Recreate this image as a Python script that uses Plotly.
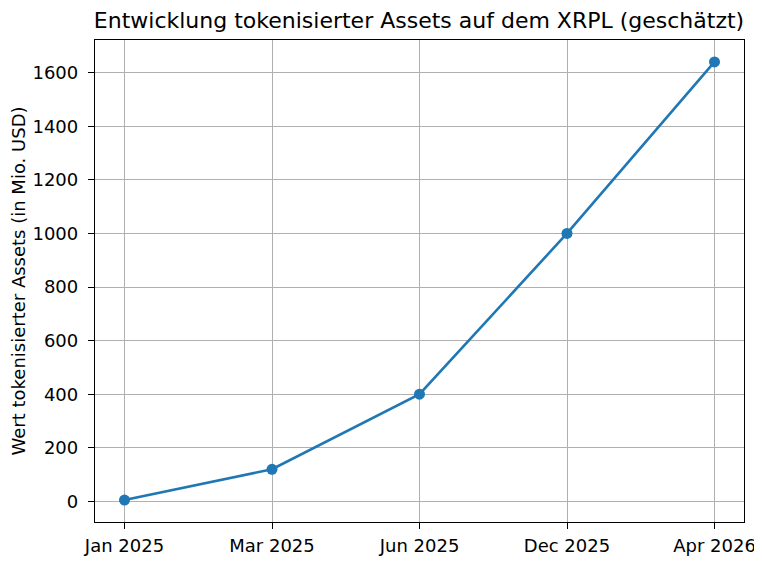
import plotly.graph_objects as go

categories = ["Jan 2025", "Mar 2025", "Jun 2025", "Dec 2025", "Apr 2026"]
values = [5, 120, 400, 1000, 1640]
y_ticks = [0, 200, 400, 600, 800, 1000, 1200, 1400, 1600]

font = "DejaVu Sans"
# The page body has a default 8px margin, so the figure is sized to fit the window.
W, H = 754, 554
fig = go.Figure(
    go.Scatter(
        x=list(range(len(categories))),
        y=values,
        mode="lines+markers",
        line=dict(color="#1f77b4", width=2.6),
        marker=dict(color="#1f77b4", size=11),
        cliponaxis=False,
    )
)

span = max(values) - min(values)
axis_common = dict(
    showgrid=True,
    gridcolor="#b0b0b0",
    gridwidth=1.3,
    zeroline=False,
    showline=True,
    linecolor="black",
    linewidth=1.3,
    mirror=True,
    ticks="outside",
    ticklen=6,
    tickwidth=1.3,
    tickcolor="black",
    automargin=False,
    tickfont=dict(family=font, size=18, color="black"),
)
fig.update_layout(
    width=W,
    height=H,
    margin=dict(l=87, r=18, t=32, b=40),
    paper_bgcolor="white",
    plot_bgcolor="white",
    showlegend=False,
    font=dict(family=font, size=18, color="black"),
    title=dict(
        text="Entwicklung tokenisierter Assets auf dem XRPL (geschätzt)",
        x=411 / W,
        xanchor="center",
        y=1 - 12 / H,
        yanchor="middle",
        font=dict(family=font, size=22, color="black"),
    ),
    xaxis=dict(
        range=[-0.2, len(categories) - 1 + 0.2],
        tickmode="array",
        tickvals=list(range(len(categories))),
        ticktext=categories,
        ticklabelstandoff=1,
        **axis_common,
    ),
    yaxis=dict(
        range=[min(values) - 0.05 * span, max(values) + 0.05 * span],
        tickmode="array",
        tickvals=y_ticks,
        ticktext=[str(v) for v in y_ticks],
        ticklabelstandoff=6,
        title=dict(
            text="Wert tokenisierter Assets (in Mio. USD)",
            font=dict(family=font, size=18, color="black"),
            standoff=12,
        ),
        **axis_common,
    ),
)

fig.write_html("out.html")
